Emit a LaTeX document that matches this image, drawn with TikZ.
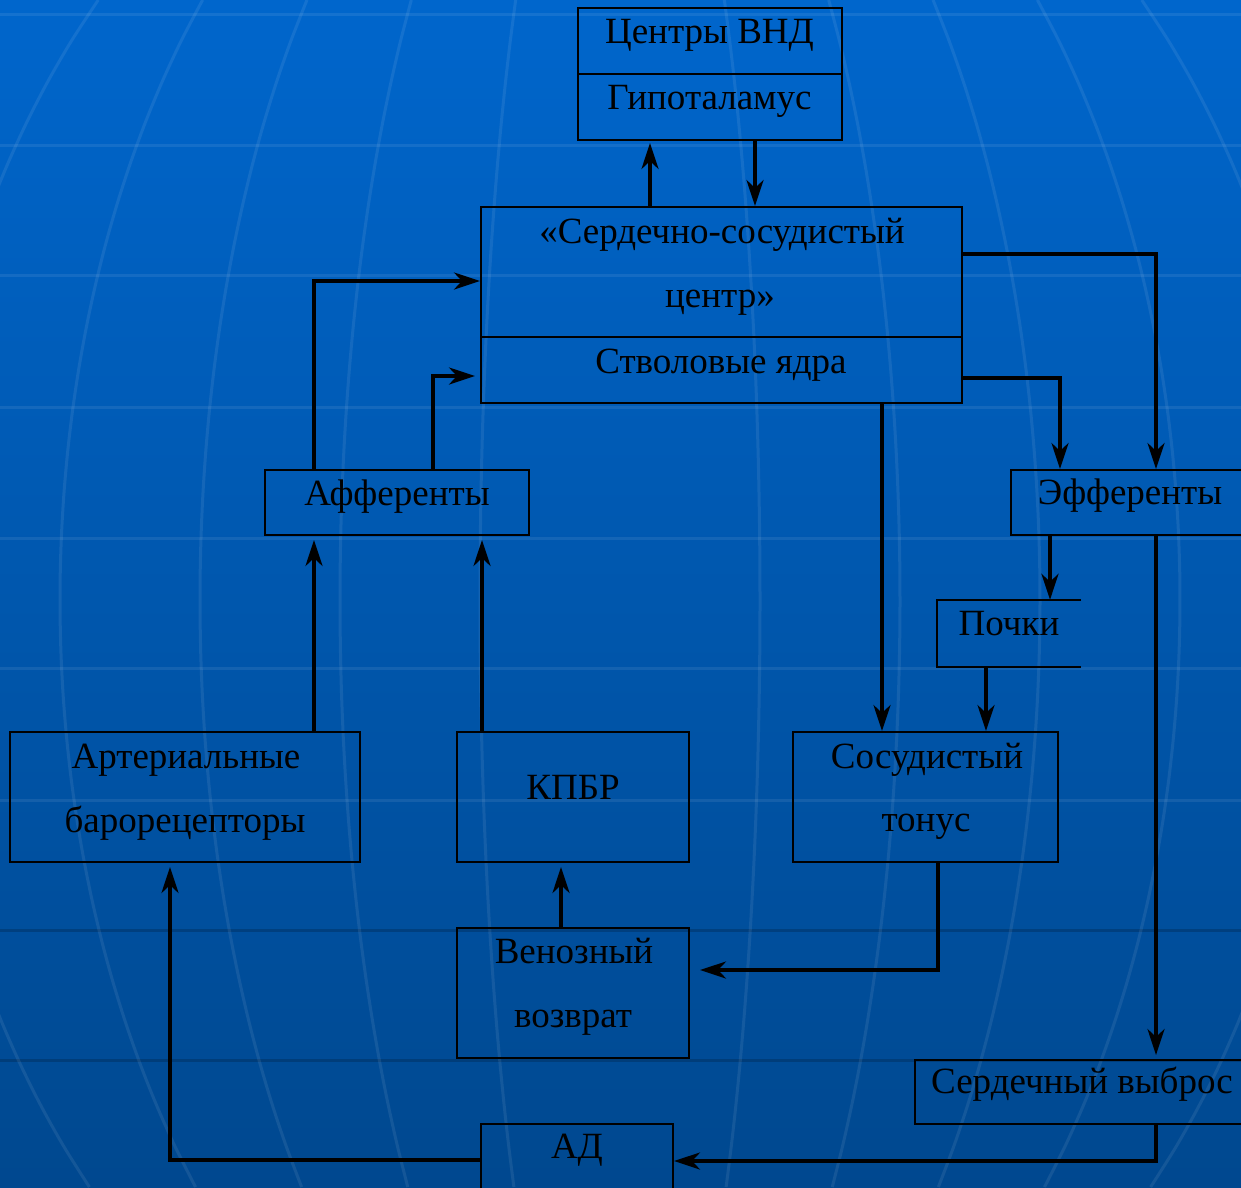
\documentclass[tikz,border=0pt]{standalone}
\usepackage{fontspec}
\setmainfont{Liberation Serif}
\usetikzlibrary{arrows.meta}
\definecolor{bgtop}{RGB}{0,102,204}
\definecolor{bgbot}{RGB}{0,72,143}
\tikzset{
  box/.style={draw=black, line width=2pt, rectangle, inner sep=0pt},
  txt/.style={anchor=base, inner sep=0pt, font=\fontsize{37}{44}\selectfont, text=black},
  conn/.style={draw=black, line width=3.5pt, -{Stealth[length=26pt, width=17pt, inset=8pt]}},
  gridl/.style={draw=white, draw opacity=0.08, line width=3pt},
  gridd/.style={draw=black, draw opacity=0.18, line width=3pt}
}
\begin{document}
\begin{tikzpicture}[x=1pt, y=-1pt]
\useasboundingbox (0,0) rectangle (1241,1187);
\fill[top color=bgtop, bottom color=bgbot] (0,0) rectangle (1241,1187);
\begin{scope}
\clip (0,0) rectangle (1241,1187);
\foreach \yy in {14,145,275,407,538,668,800} \draw[gridl] (0,\yy) -- (1241,\yy);
\foreach \yy in {930,1060} \draw[gridd] (0,\yy) -- (1241,\yy);
\foreach \a in {140,280,420,560,700,840} {
  \draw[gridl] plot[domain=0:1187, samples=30, smooth] ({620 - \a*sqrt(1-((\x-600)/900)^2)}, \x);
  \draw[gridl] plot[domain=0:1187, samples=30, smooth] ({620 + \a*sqrt(1-((\x-600)/900)^2)}, \x);
}
\end{scope}

% boxes
\node[box, minimum width=264pt, minimum height=66pt] (vnd) at (710,41) {};
\node[box, minimum width=264pt, minimum height=66pt] (hyp) at (710,107) {};
\node[box, minimum width=481pt, minimum height=130pt] (cvc) at (721.5,272) {};
\node[box, minimum width=481pt, minimum height=66pt] (stem) at (721.5,370) {};
\node[box, minimum width=264pt, minimum height=65pt] (aff) at (397,502.5) {};
\node[box, minimum width=240pt, minimum height=65pt] (eff) at (1131,502.5) {};
\node[inner sep=0pt, minimum width=144pt, minimum height=67pt] (poch) at (1009,633.5) {};
\draw[black, line width=2pt] (poch.north east) -- (poch.north west) -- (poch.south west) -- (poch.south east);
\node[box, minimum width=350pt, minimum height=130pt] (baro) at (185,797) {};
\node[box, minimum width=232pt, minimum height=130pt] (kpbr) at (573,797) {};
\node[box, minimum width=265pt, minimum height=130pt] (tonus) at (925.5,797) {};
\node[box, minimum width=232pt, minimum height=130pt] (ven) at (573,993) {};
\node[box, minimum width=330pt, minimum height=64pt] (co) at (1080,1092) {};
\node[box, minimum width=192pt, minimum height=72pt] (ad) at (577,1160) {};

% texts
\node[txt] (t1) at (709.5,43) {Центры ВНД};
\node[txt] (t2) at (709.5,109) {Гипоталамус};
\node[txt] (t3) at (722,243) {«Сердечно-сосудистый};
\node[txt] (t4) at (720,307) {центр»};
\node[txt] (t5) at (721,373) {Стволовые ядра};
\node[txt] (t6) at (397,505) {Афференты};
\node[txt] (t7) at (1130,504) {Эфференты};
\node[txt] (t8) at (1009,635) {Почки};
\node[txt] (t9) at (186,768) {Артериальные};
\node[txt] (t10) at (185,832) {барорецепторы};
\node[txt] (t11) at (573,799) {КПБР};
\node[txt] (t12) at (927,768) {Сосудистый};
\node[txt] (t13) at (926,831) {тонус};
\node[txt] (t14) at (574,963) {Венозный};
\node[txt] (t15) at (573,1027) {возврат};
\node[txt] (t16) at (1082,1093) {Сердечный выброс};
\node[txt] (t17) at (577,1158) {АД};

% connectors
\draw[conn] (314,0 |- aff.north) -- (314,281) -- (cvc.west |- 0,281);
\draw[conn, shorten >=5pt] (433,0 |- aff.north) -- (433,376) -- (stem.west |- 0,376);
\draw[conn] (cvc.east |- 0,254) -- (1156,254) -- (1156,0 |- eff.north);
\draw[conn] (stem.east |- 0,378) -- (1060,378) -- (1060,0 |- eff.north);
\draw[conn] (882,0 |- stem.south) -- (882,0 |- tonus.north);
\draw[conn] (1050,0 |- eff.south) -- (1050,0 |- poch.north);
\draw[conn] (986,0 |- poch.south) -- (986,0 |- tonus.north);
\draw[conn, shorten >=4pt] (1156,0 |- eff.south) -- (1156,0 |- co.north);
\draw[conn] (1156,0 |- co.south) -- (1156,1161) -- (ad.east |- 0,1161);
\draw[conn, shorten >=4pt] (ad.west |- 0,1160) -- (170,1160) -- (170,0 |- baro.south);
\draw[conn, shorten >=4pt] (314,0 |- baro.north) -- (314,0 |- aff.south);
\draw[conn, shorten >=4pt] (482,0 |- kpbr.north) -- (482,0 |- aff.south);
\draw[conn, shorten >=4pt] (561,0 |- ven.north) -- (561,0 |- kpbr.south);
\draw[conn, shorten >=10pt] (938,0 |- tonus.south) -- (938,970) -- (ven.east |- 0,970);
\draw[conn, shorten >=2pt] (650,0 |- cvc.north) -- (650,0 |- hyp.south);
\draw[conn] (755,0 |- hyp.south) -- (755,0 |- cvc.north);
\end{tikzpicture}
\end{document}
